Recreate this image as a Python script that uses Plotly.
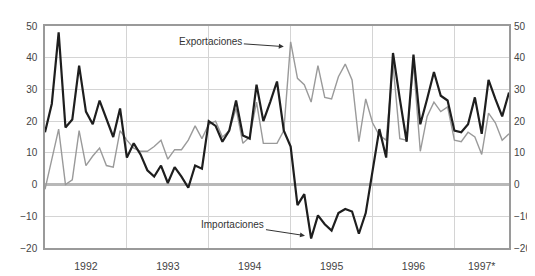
import plotly.graph_objects as go

# Monthly series, Jan 1992 .. Sep 1997 (month index 0..68)
months = list(range(69))

importaciones = [
    16.5, 25.5, 48, 18, 20.5, 37.5, 23, 19, 26.5, 21, 15, 24,          # 1992
    8.5, 13, 9.5, 4.5, 2.5, 6, 0.5, 5.5, 2.5, -1, 6, 5,                  # 1993
    20, 18.5, 13.5, 17, 26.5, 15.5, 14.5, 31.5, 20, 26, 32.5, 17,        # 1994
    12, -6.5, -3, -17, -9.7, -12.5, -14.5, -9, -7.7, -8.5, -15.5, -9,    # 1995
    5, 17.5, 8.5, 41.5, 27, 13.5, 41, 19, 27, 35.5, 28, 26.5,            # 1996
    17, 16.5, 19, 27.5, 16, 33, 27, 21.5, 29,                            # 1997
]

exportaciones = [
    -1.5, 8.5, 17.5, 0, 1.5, 17, 6, 9, 11.5, 6, 5.5, 17,                 # 1992
    14, 11.5, 10.5, 10.5, 12, 14, 8, 11, 11, 14, 18.5, 14.5,             # 1993
    19, 20, 15, 17, 24, 13, 15, 26, 13, 13, 13, 17,                      # 1994
    45, 33.5, 31.5, 26, 37.5, 27.5, 27, 34, 38, 33, 13.5, 27,            # 1995
    19.5, 15.5, 14, 38, 14.5, 14, 38, 10.5, 21.5, 26, 23, 24.5,          # 1996
    14, 13.5, 16.5, 15, 9.5, 22.5, 19.5, 14, 16,                         # 1997
]

year_labels = ["1992", "1993", "1994", "1995", "1996", "1997*"]
year_label_pos = [6, 18, 30, 42, 54, 64]
year_bounds = [12, 24, 36, 48, 60]
y_ticks = [-20, -10, 0, 10, 20, 30, 40, 50]

FONT = "Liberation Sans, Arial, sans-serif"
GRID = "#d4d4d4"
TXT = "#444444"

fig = go.Figure()
fig.add_trace(go.Scatter(x=months, y=exportaciones, mode="lines",
                         line=dict(color="#9a9a9a", width=1.4),
                         name="Exportaciones", hoverinfo="skip"))
fig.add_trace(go.Scatter(x=months, y=importaciones, mode="lines",
                         line=dict(color="#1e1e1e", width=2.2),
                         name="Importaciones", hoverinfo="skip",
                         yaxis="y2"))

fig.update_layout(
    width=535, height=276,
    margin=dict(l=33, r=22, t=15, b=29),
    paper_bgcolor="white", plot_bgcolor="white",
    showlegend=False,
    font=dict(family=FONT, size=10, color=TXT),
    xaxis=dict(
        range=[0, 68], tickmode="array", tickvals=year_label_pos,
        ticktext=year_labels, showgrid=False, ticks="",
        ticklabelstandoff=8, zeroline=False,
        showline=True, linecolor="#9a9a9a", linewidth=1.5, mirror=True,
        minor=dict(tickmode="array", tickvals=year_bounds, showgrid=True,
                   gridcolor=GRID, gridwidth=1, ticks=""),
        tickfont=dict(size=10.5, color=TXT),
    ),
    yaxis=dict(
        range=[-20, 50], tickmode="array", tickvals=y_ticks,
        showgrid=True, gridcolor=GRID, gridwidth=1,
        zeroline=True, zerolinecolor="#b8b8b8", zerolinewidth=2.5,
        showline=True, linecolor="#9a9a9a", linewidth=1.5, mirror=True,
        ticks="", ticklabelstandoff=4, tickfont=dict(size=10, color=TXT),
    ),
    yaxis2=dict(
        range=[-20, 50], tickmode="array", tickvals=y_ticks,
        overlaying="y", side="right", showgrid=False, zeroline=False,
        ticks="", ticklabelstandoff=4, tickfont=dict(size=10, color=TXT),
        showline=False,
    ),
)

fig.add_annotation(x=35, y=43.5, xref="x", yref="y", text="Exportaciones",
                   showarrow=True, ax=-73, ay=-5, arrowhead=2, arrowsize=1,
                   arrowwidth=1, arrowcolor="#333333",
                   font=dict(family=FONT, size=10, color="#333333"))
fig.add_annotation(x=38.1, y=-16.1, xref="x", yref="y", text="Importaciones",
                   showarrow=True, ax=-72, ay=-11, arrowhead=2, arrowsize=1,
                   arrowwidth=1, arrowcolor="#333333",
                   font=dict(family=FONT, size=10, color="#333333"))

fig.write_html("out.html")
